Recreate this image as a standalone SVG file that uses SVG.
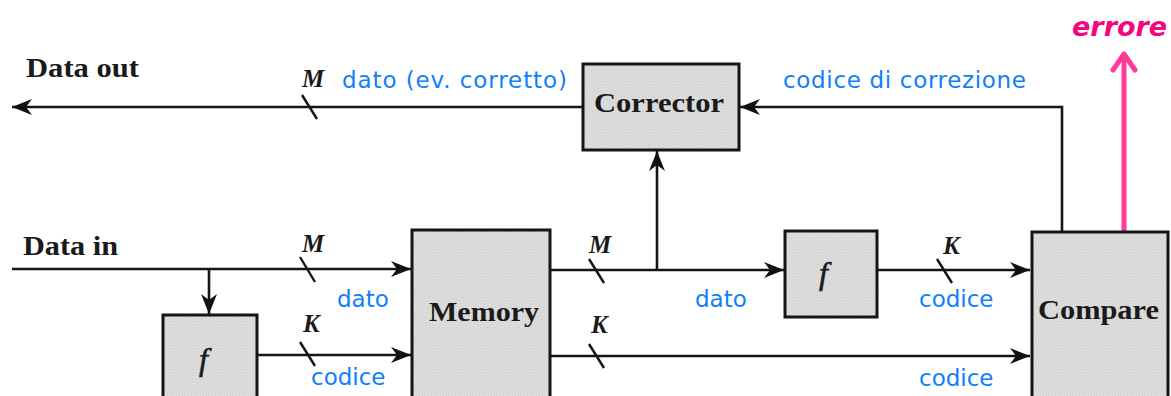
<svg xmlns="http://www.w3.org/2000/svg" width="1171" height="396" viewBox="0 0 1171 396">
  <defs>
    <!-- halftone-like grey fill used by the blocks -->
    <pattern id="dither" width="3" height="3" patternUnits="userSpaceOnUse">
      <rect width="3" height="3" fill="#e4e4e4"/>
      <rect x="0" y="0" width="1.5" height="1.5" fill="#cdcdcd"/>
      <rect x="1.5" y="1.5" width="1.5" height="1.5" fill="#d3d3d3"/>
    </pattern>
    <marker id="arrow" markerUnits="userSpaceOnUse" markerWidth="22" markerHeight="18" refX="20" refY="8" orient="auto">
      <path d="M0,0 L20,8 L0,16 L6,8 Z" fill="#111"/>
    </marker>
    <style>
      .block { fill: url(#dither); stroke: #151515; stroke-width: 3; }
      .wire { fill: none; stroke: #151515; stroke-width: 2.6; }
      .slash { stroke: #151515; stroke-width: 2.4; }
      .title { font-family: "Liberation Serif", "Times New Roman", serif; font-weight: bold; font-size: 27px; fill: #1a1a1a; }
      .width { font-family: "Liberation Serif", "Times New Roman", serif; font-weight: bold; font-style: italic; font-size: 25px; fill: #1a1a1a; }
      .fn { font-family: "Liberation Serif", "Times New Roman", serif; font-style: italic; font-size: 32px; fill: #1a1a1a; stroke: #1a1a1a; stroke-width: 0.6; }
      .note { font-family: "DejaVu Sans", Verdana, sans-serif; font-size: 23px; fill: #0f80f6; }
      .alert { font-family: "DejaVu Sans", Verdana, sans-serif; font-weight: bold; font-style: italic; font-size: 27px; fill: #f2077f; }
    </style>
  </defs>

  <rect width="1171" height="396" fill="#ffffff"/>

  <!-- connectors -->
  <g id="connectors">
    <!-- Data out -->
    <line class="wire" x1="583" y1="107" x2="12" y2="107" marker-end="url(#arrow)"/>
    <line class="slash" x1="302" y1="95" x2="317" y2="119"/>
    <!-- Compare to Corrector -->
    <polyline class="wire" points="1062,232 1062,107 740,107" marker-end="url(#arrow)"/>
    <!-- Memory data up to Corrector -->
    <line class="wire" x1="657" y1="270" x2="657" y2="151" marker-end="url(#arrow)"/>
    <!-- Data in -->
    <line class="wire" x1="12" y1="269" x2="411" y2="269" marker-end="url(#arrow)"/>
    <line class="slash" x1="300" y1="257" x2="315" y2="282"/>
    <line class="wire" x1="209" y1="269" x2="209" y2="314" marker-end="url(#arrow)"/>
    <!-- f to Memory -->
    <line class="wire" x1="257" y1="355" x2="411" y2="355" marker-end="url(#arrow)"/>
    <line class="slash" x1="300" y1="342" x2="315" y2="366"/>
    <!-- Memory data out -->
    <line class="wire" x1="550" y1="270" x2="784" y2="270" marker-end="url(#arrow)"/>
    <line class="slash" x1="589" y1="259" x2="604" y2="283"/>
    <!-- Memory code out -->
    <line class="wire" x1="550" y1="356" x2="1030" y2="356" marker-end="url(#arrow)"/>
    <line class="slash" x1="589" y1="344" x2="604" y2="368"/>
    <!-- f to Compare -->
    <line class="wire" x1="878" y1="270" x2="1030" y2="270" marker-end="url(#arrow)"/>
    <line class="slash" x1="937" y1="259" x2="952" y2="283"/>
    <!-- error output -->
    <line x1="1124" y1="231" x2="1124" y2="54" stroke="#ff3a98" stroke-width="5"/>
    <polyline points="1113,70 1124,54 1135,70" fill="none" stroke="#ff3a98" stroke-width="5" stroke-linecap="round" stroke-linejoin="round"/>
  </g>

  <g id="corrector">
    <rect class="block" x="583" y="64" width="156" height="86"/>
    <text class="title" x="594" y="112" textLength="130" lengthAdjust="spacingAndGlyphs">Corrector</text>
  </g>

  <g id="memory">
    <rect class="block" x="412" y="230" width="138" height="180"/>
    <text class="title" x="429" y="321" textLength="110" lengthAdjust="spacingAndGlyphs">Memory</text>
  </g>

  <g id="f-in">
    <rect class="block" x="163" y="315" width="94" height="95"/>
    <text class="fn" x="199" y="370">f</text>
  </g>

  <g id="f-out">
    <rect class="block" x="785" y="231" width="92" height="86"/>
    <text class="fn" x="819" y="284">f</text>
  </g>

  <g id="compare">
    <rect class="block" x="1032" y="232" width="136" height="180"/>
    <text class="title" x="1038" y="319" textLength="121" lengthAdjust="spacingAndGlyphs">Compare</text>
  </g>

  <g id="labels">
    <text class="title" x="26" y="77" textLength="113" lengthAdjust="spacingAndGlyphs">Data out</text>
    <text class="title" x="23" y="255" textLength="95" lengthAdjust="spacingAndGlyphs">Data in</text>

    <text class="width" x="302" y="87">M</text>
    <text class="width" x="302" y="252">M</text>
    <text class="width" x="303" y="332">K</text>
    <text class="width" x="589" y="253">M</text>
    <text class="width" x="591" y="333">K</text>
    <text class="width" x="943" y="254">K</text>

    <text class="note" x="342" y="88" textLength="225">dato (ev. corretto)</text>
    <text class="note" x="783" y="88" textLength="243">codice di correzione</text>
    <text class="note" x="337" y="307">dato</text>
    <text class="note" x="311" y="385">codice</text>
    <text class="note" x="695" y="307">dato</text>
    <text class="note" x="919" y="307">codice</text>
    <text class="note" x="919" y="386">codice</text>

    <text class="alert" x="1072" y="36">errore</text>
  </g>
</svg>
